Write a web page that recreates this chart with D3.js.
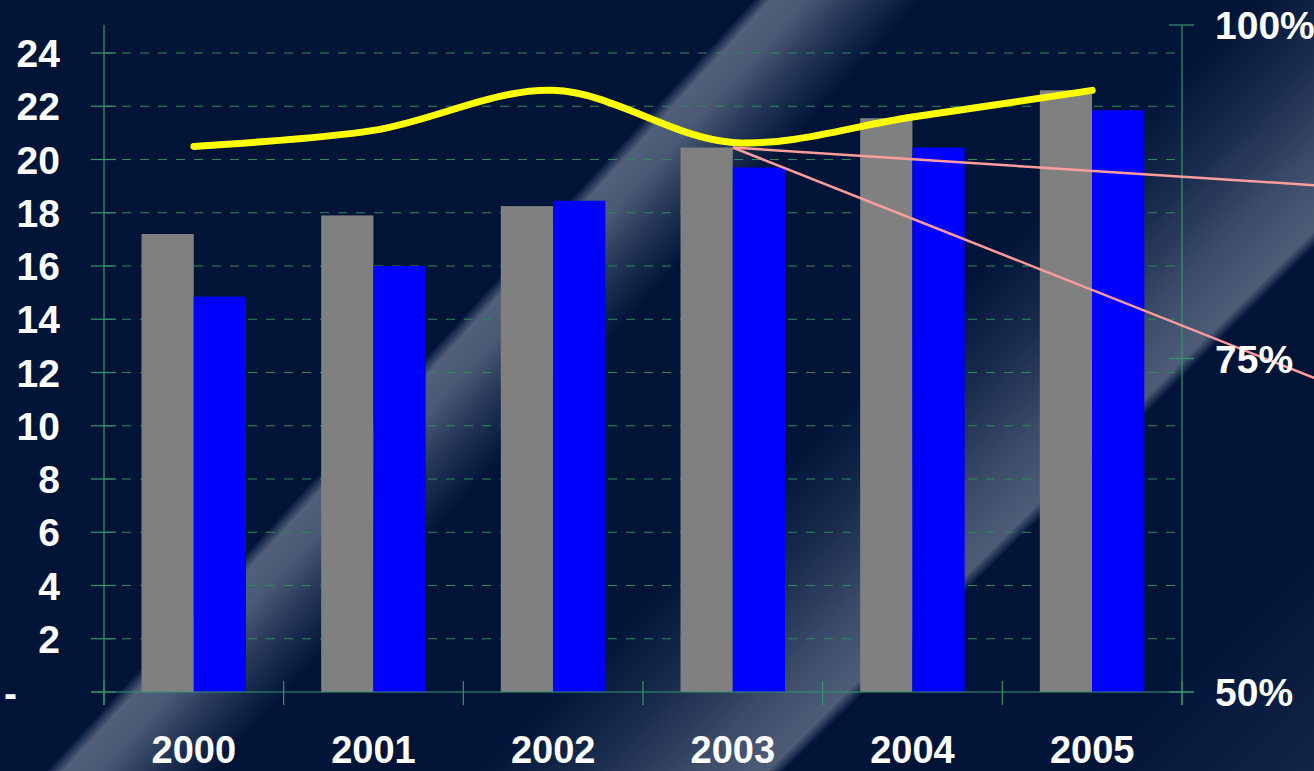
<!DOCTYPE html>
<html>
<head>
<meta charset="utf-8">
<script src="https://cdn.jsdelivr.net/npm/d3@7"></script>
<style>
  body { margin: 0; background: #001438; overflow: hidden; }
  text { font-family: "Liberation Sans", Arial, sans-serif; font-weight: bold; fill: #fff; }
</style>
</head>
<body>
<svg id="chart" width="1314" height="771"></svg>
<script>
// chart values
var years = ["2000", "2001", "2002", "2003", "2004", "2005"];
var grayVals = [17.2, 17.9, 18.25, 20.45, 21.55, 22.6];
var blueVals = [14.85, 16.0, 18.45, 19.7, 20.45, 21.85];
var pctVals = [90.9, 92.1, 95.1, 91.2, 93.1, 95.1];      // yellow line, right axis
var leftTicks = [0, 2, 4, 6, 8, 10, 12, 14, 16, 18, 20, 22, 24];
var leftLabels = ["-", "2", "4", "6", "8", "10", "12", "14", "16", "18", "20", "22", "24"];
var rightTicks = [50, 75, 100];
var rightLabels = ["50%", "75%", "100%"];
// projection lines (pink), year index -> left axis value
var trendIdx = [3, 7];
var trendHigh = [20.45, 18.7];
var trendLow = [20.45, 9.75];

var width = 1314, height = 771;
var svg = d3.select("#chart");
var defs = svg.append("defs");

// background: dark navy with two diagonal light streaks
function streak(id, nx, ny, stops) {
  var g = defs.append("linearGradient")
      .attr("id", id)
      .attr("gradientUnits", "userSpaceOnUse")
      .attr("x1", 0).attr("y1", 0)
      .attr("x2", nx * 1500).attr("y2", ny * 1500);
  stops.forEach(function(s) {
    g.append("stop")
      .attr("offset", s[0] / 1500)
      .attr("stop-color", "#56647e")
      .attr("stop-opacity", s[1]);
  });
  svg.append("rect").attr("width", width).attr("height", height).attr("fill", "url(#" + id + ")");
}
svg.append("rect").attr("width", width).attr("height", height).attr("fill", "#001438");
streak("s1", 0.737, 0.676, [[0, 0], [555, 0], [568, 0.95], [595, 0.85], [630, 0.45], [680, 0], [1500, 0]]);
streak("s2", 0.703, 0.711, [[0, 0], [880, 0], [960, 0.3], [1040, 0.72], [1088, 0.9], [1100, 0], [1300, 0], [1500, 0.25]]);

// scales
var x0 = d3.scaleBand().domain(years).range([104, 1182]);
var x1 = d3.scaleBand().domain(["gray", "blue"]).range([37.5, 142]);
var yL = d3.scaleLinear().domain([0, 24]).range([692, 53]);
var yR = d3.scaleLinear().domain([50, 100]).range([692, 25]);
var xc = d3.scaleLinear().domain([0, 5])
    .range([x0(years[0]) + x0.bandwidth() / 2, x0(years[5]) + x0.bandwidth() / 2]);

var green = "#35966a";

// dashed gridlines
svg.append("g").selectAll("line")
  .data(leftTicks.slice(1))
  .join("line")
    .attr("x1", 104).attr("x2", 1182)
    .attr("y1", d => yL(d)).attr("y2", d => yL(d))
    .attr("stroke", "#2c8a5c")
    .attr("stroke-width", 1)
    .attr("stroke-dasharray", "9,9");

// bars
var bars = svg.append("g");
years.forEach(function(yr, i) {
  bars.append("rect")
    .attr("x", x0(yr) + x1("gray"))
    .attr("y", yL(grayVals[i]))
    .attr("width", x1.bandwidth())
    .attr("height", yL(0) - yL(grayVals[i]))
    .attr("fill", "#808080");
  bars.append("rect")
    .attr("x", x0(yr) + x1("blue"))
    .attr("y", yL(blueVals[i]))
    .attr("width", x1.bandwidth())
    .attr("height", yL(0) - yL(blueVals[i]))
    .attr("fill", "#0000ff");
});

// axes
var ax = svg.append("g").attr("stroke", green).attr("stroke-width", 1.2);
ax.append("line").attr("x1", 104).attr("x2", 104).attr("y1", 25).attr("y2", 705);
ax.append("line").attr("x1", 1182).attr("x2", 1182).attr("y1", 25).attr("y2", 705);
ax.append("line").attr("x1", 91).attr("x2", 1194).attr("y1", yL(0)).attr("y2", yL(0));
ax.selectAll(".lt").data(leftTicks).join("line").attr("class", "lt")
    .attr("x1", 91).attr("x2", 116)
    .attr("y1", d => yL(d)).attr("y2", d => yL(d));
ax.selectAll(".rt").data(rightTicks).join("line").attr("class", "rt")
    .attr("x1", 1169).attr("x2", 1194)
    .attr("y1", d => yR(d)).attr("y2", d => yR(d));
var bounds = years.map(d => x0(d)).concat([1182]);
ax.selectAll(".xt").data(bounds).join("line").attr("class", "xt")
    .attr("x1", d => d).attr("x2", d => d)
    .attr("y1", 681).attr("y2", 705);

// yellow percentage line
var line = d3.line()
    .x((d, i) => xc(i))
    .y(d => yR(d))
    .curve(d3.curveCatmullRom.alpha(0.5));
svg.append("path")
    .attr("d", line(pctVals))
    .attr("fill", "none")
    .attr("stroke", "#ffff00")
    .attr("stroke-width", 7)
    .attr("stroke-linecap", "round")
    .attr("stroke-linejoin", "round");

// pink projection lines
var tline = d3.line().x((d, i) => xc(trendIdx[i])).y(d => yL(d));
[trendHigh, trendLow].forEach(function(t) {
  svg.append("path")
    .attr("d", tline(t))
    .attr("fill", "none")
    .attr("stroke", "#ff9c9c")
    .attr("stroke-width", 2.5);
});

// labels
var fs = 39;
svg.append("g").selectAll("text")
  .data(leftTicks)
  .join("text")
    .attr("x", (d, i) => i === 0 ? 4 : 60)
    .attr("y", (d, i) => i === 0 ? yL(d) + 15 : yL(d) + 14)
    .attr("text-anchor", (d, i) => i === 0 ? "start" : "end")
    .attr("font-size", fs)
    .text((d, i) => leftLabels[i]);

svg.append("g").selectAll("text")
  .data(rightTicks)
  .join("text")
    .attr("x", 1215)
    .attr("y", d => yR(d) + 14)
    .attr("font-size", fs)
    .text((d, i) => rightLabels[i]);

svg.append("g").selectAll("text")
  .data(years)
  .join("text")
    .attr("x", d => x0(d) + x0.bandwidth() / 2)
    .attr("y", 763)
    .attr("text-anchor", "middle")
    .attr("font-size", 38)
    .text(d => d);
</script>
</body>
</html>
